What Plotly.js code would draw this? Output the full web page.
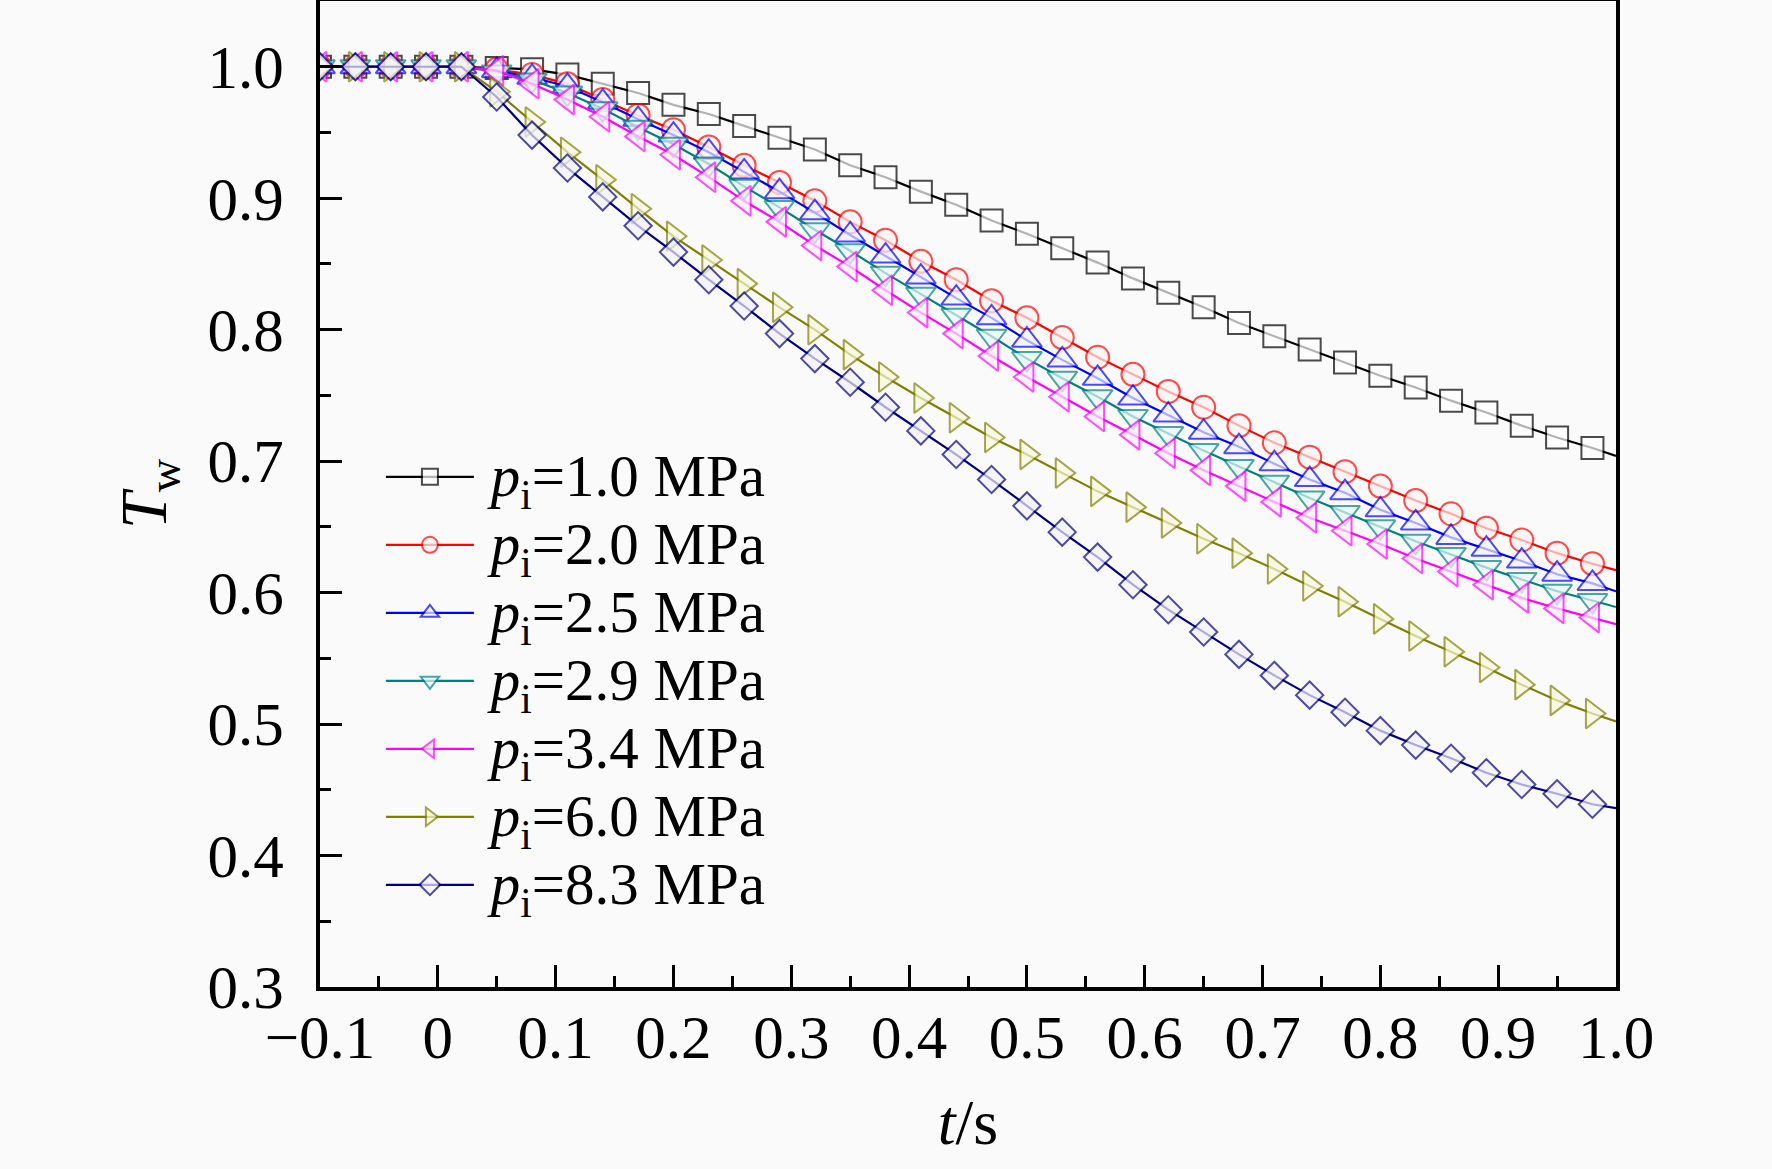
<!DOCTYPE html>
<html>
<head>
<meta charset="utf-8">
<script src="https://cdn.plot.ly/plotly-3.0.1.min.js"></script>
<style>
  body { margin: 0; background: #fafafa; }
  #chart { width: 1772px; height: 1169px; }
</style>
</head>
<body>
<div id="chart"></div>
<script>
// sampled time (s); markers every 0.03 s, last point is the line end at 1.0
var t = [-0.10, -0.07, -0.04, -0.01, 0.02, 0.05, 0.08, 0.11, 0.14, 0.17,
         0.20, 0.23, 0.26, 0.29, 0.32, 0.35, 0.38, 0.41, 0.44, 0.47,
         0.50, 0.53, 0.56, 0.59, 0.62, 0.65, 0.68, 0.71, 0.74, 0.77,
         0.80, 0.83, 0.86, 0.89, 0.92, 0.95, 0.98, 1.00];

var p10 = [1.000, 1.000, 1.000, 1.000, 1.000, 0.999, 0.998, 0.994, 0.987, 0.980,
           0.971, 0.964, 0.955, 0.946, 0.937, 0.925, 0.916, 0.905, 0.895, 0.883,
           0.873, 0.862, 0.851, 0.839, 0.828, 0.817, 0.805, 0.795, 0.785, 0.775,
           0.765, 0.756, 0.746, 0.737, 0.727, 0.718, 0.710, 0.704];

var p20 = [1.000, 1.000, 1.000, 1.000, 1.000, 0.998, 0.994, 0.987, 0.975, 0.963,
           0.952, 0.939, 0.925, 0.912, 0.898, 0.882, 0.868, 0.852, 0.838, 0.822,
           0.809, 0.794, 0.779, 0.766, 0.753, 0.741, 0.727, 0.714, 0.703, 0.692,
           0.681, 0.670, 0.660, 0.649, 0.640, 0.630, 0.622, 0.617];

var p25 = [1.000, 1.000, 1.000, 1.000, 1.000, 0.997, 0.992, 0.985, 0.973, 0.960,
           0.948, 0.935, 0.920, 0.905, 0.889, 0.872, 0.856, 0.840, 0.824, 0.809,
           0.792, 0.777, 0.763, 0.748, 0.735, 0.722, 0.711, 0.698, 0.686, 0.676,
           0.663, 0.653, 0.642, 0.633, 0.624, 0.614, 0.607, 0.601];

var p29 = [1.000, 1.000, 1.000, 1.000, 1.000, 0.996, 0.990, 0.980, 0.968, 0.954,
           0.941, 0.926, 0.909, 0.893, 0.876, 0.860, 0.843, 0.827, 0.811, 0.795,
           0.778, 0.763, 0.749, 0.734, 0.721, 0.708, 0.696, 0.684, 0.672, 0.661,
           0.650, 0.639, 0.629, 0.619, 0.610, 0.601, 0.594, 0.589];

var p34 = [1.000, 1.000, 1.000, 1.000, 1.000, 0.997, 0.987, 0.975, 0.962, 0.947,
           0.933, 0.916, 0.898, 0.882, 0.864, 0.848, 0.830, 0.813, 0.797, 0.780,
           0.764, 0.749, 0.734, 0.720, 0.706, 0.693, 0.681, 0.669, 0.657, 0.647,
           0.637, 0.626, 0.616, 0.606, 0.596, 0.588, 0.581, 0.576];

var p60 = [1.000, 1.000, 1.000, 1.000, 1.000, 0.981, 0.958, 0.935, 0.914, 0.892,
           0.871, 0.853, 0.835, 0.817, 0.800, 0.781, 0.764, 0.748, 0.733, 0.718,
           0.705, 0.691, 0.677, 0.665, 0.653, 0.641, 0.630, 0.618, 0.605, 0.593,
           0.580, 0.567, 0.555, 0.543, 0.530, 0.518, 0.508, 0.502];

var p83 = [1.000, 1.000, 1.000, 1.000, 1.000, 0.977, 0.948, 0.923, 0.901, 0.879,
           0.859, 0.838, 0.818, 0.797, 0.778, 0.760, 0.741, 0.723, 0.705, 0.686,
           0.666, 0.646, 0.627, 0.606, 0.587, 0.570, 0.553, 0.537, 0.522, 0.509,
           0.495, 0.484, 0.474, 0.463, 0.454, 0.447, 0.439, 0.436];

var names = ['1.0', '2.0', '2.5', '2.9', '3.4', '6.0', '8.3'];
var series = [p10, p20, p25, p29, p34, p60, p83];
var colors = ['#000000', '#ff0000', '#0000ff', '#008080', '#ff00ff', '#808000', '#000080'];
var fills = ['#ffffff', '#fff2f2', '#f2f2ff', '#e8f8f8', '#fdeefd', '#f8f8dc', '#f2f2fb'];
var symbols = ['square', 'circle', 'triangle-up', 'triangle-down', 'triangle-left', 'triangle-right', 'diamond'];
var sizes = [22, 23, 26, 26, 26, 26, 21];

var xTicks = [-0.1, 0, 0.1, 0.2, 0.3, 0.4, 0.5, 0.6, 0.7, 0.8, 0.9, 1.0];
var xTickText = ['\u22120.1', '0', '0.1', '0.2', '0.3', '0.4', '0.5', '0.6', '0.7', '0.8', '0.9', '1.0'];
var yTicks = [0.3, 0.4, 0.5, 0.6, 0.7, 0.8, 0.9, 1.0];
var yTickText = ['0.3', '0.4', '0.5', '0.6', '0.7', '0.8', '0.9', '1.0'];

var FONT = 'Liberation Serif, Times New Roman, serif';

var traces = [];
for (var i = 0; i < series.length; i++) {
    // no marker on the last (line end) point
    var ms = t.map(function (v, j) { return j === t.length - 1 ? 0 : sizes[i]; });
    traces.push({
        x: t,
        y: series[i],
        type: 'scatter',
        mode: 'lines+markers',
        // legend rows are packed tight, so the label is enlarged inline
        name: '<span style="font-size:59px">\u2009<i>p</i><sub>i</sub>=' + names[i] + ' MPa</span>',
        line: { color: colors[i], width: 2.2 },
        marker: {
            symbol: symbols[i],
            size: ms,
            color: fills[i],
            line: { color: colors[i], width: 2 }
        },
        cliponaxis: true
    });
}

var axisCommon = {
    showline: true,
    linewidth: 4,
    linecolor: '#000',
    mirror: true,
    ticks: 'inside',
    ticklen: 22,
    tickwidth: 3,
    tickcolor: '#000',
    showgrid: false,
    zeroline: false,
    tickmode: 'array',
    tickfont: { family: FONT, size: 61, color: '#000' }
};

var layout = {
    width: 1772,
    height: 1169,
    margin: { l: 320, r: 156, t: 1, b: 182 },
    paper_bgcolor: '#fafafa',
    plot_bgcolor: '#fafafa',
    font: { family: FONT, color: '#000' },
    showlegend: true,
    legend: {
        x: 0.047,
        y: 0.557,
        xanchor: 'left',
        yanchor: 'top',
        bgcolor: 'rgba(0,0,0,0)',
        font: { family: FONT, size: 50, color: '#000' },
        itemwidth: 88
    },
    xaxis: Object.assign({}, axisCommon, {
        range: [-0.1, 1.0],
        tickvals: xTicks,
        ticktext: xTickText,
        ticklabelstandoff: -6,
        minor: { dtick: 0.05, tick0: -0.1, ticks: 'inside', ticklen: 11, tickwidth: 3, tickcolor: '#000' },
        title: { text: '<i>t</i>/s', font: { family: FONT, size: 64 }, standoff: 30 }
    }),
    yaxis: Object.assign({}, axisCommon, {
        range: [0.3, 1.05],
        tickvals: yTicks,
        ticktext: yTickText,
        ticklabelstandoff: 20,
        minor: { dtick: 0.05, tick0: 0.3, ticks: 'inside', ticklen: 11, tickwidth: 3, tickcolor: '#000' },
        title: { text: '<i>T</i><sub>w</sub>', font: { family: FONT, size: 66 }, standoff: 20 }
    })
};

Plotly.newPlot('chart', traces, layout, { displayModeBar: false, staticPlot: true });
</script>
</body>
</html>
